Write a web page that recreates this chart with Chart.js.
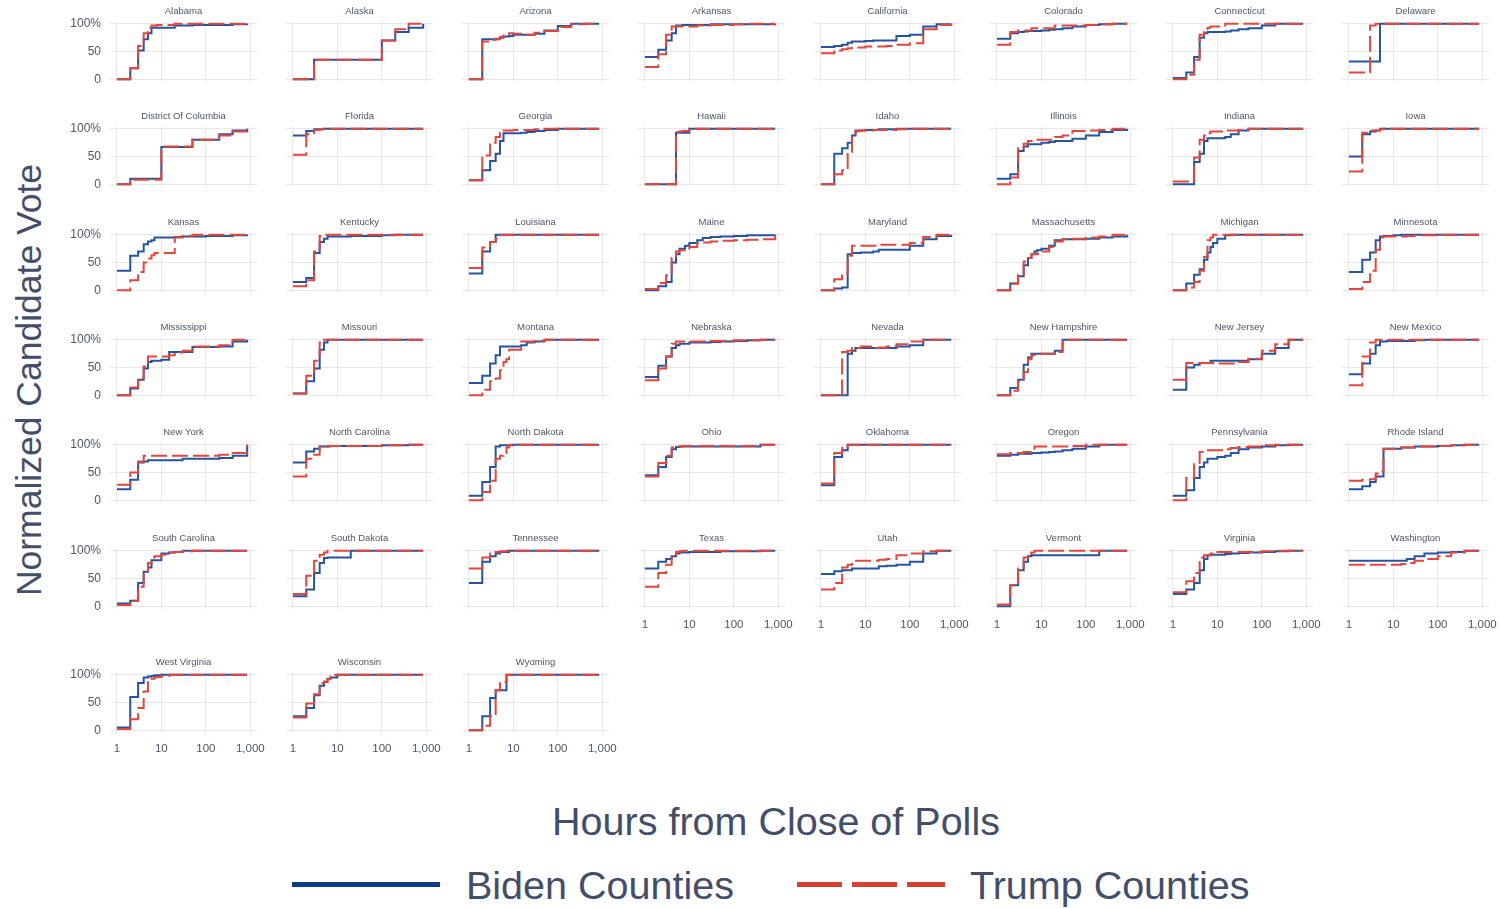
<!DOCTYPE html>
<html>
<head>
<meta charset="utf-8">
<script src="https://cdn.jsdelivr.net/npm/chart.js@4"></script>
<style>
  body { margin: 0; background: #fff; }
  #wrap { position: relative; width: 1500px; height: 908px; overflow: hidden; font-family: 'Liberation Sans', Arial, sans-serif; }
  #wrap canvas { position: absolute; }
  .big { position: absolute; color: #444e6a; font-size: 39.5px; line-height: 1; white-space: nowrap; }
  .key { position: absolute; height: 5px; width: 148px; }
</style>
</head>
<body>
<div id="wrap">
  <div class="big" style="left:30px;top:380px;font-size:35.5px;transform:translate(-50%,-50%) rotate(-90deg);">Normalized Candidate Vote</div>
  <div class="big" style="left:776px;top:822px;transform:translate(-50%,-50%);">Hours from Close of Polls</div>
  <div class="key" style="left:292px;top:882px;background:#0c3c8a;"></div>
  <div class="big" style="left:466px;top:886px;transform:translateY(-50%);">Biden Counties</div>
  <div class="key" style="left:797px;top:882px;background:repeating-linear-gradient(90deg,#d8402f 0 45px,transparent 45px 55px);"></div>
  <div class="big" style="left:970px;top:886px;transform:translateY(-50%);">Trump Counties</div>
</div>
<script>
// hours after poll close where the cumulative share is read
const hours = [1, 2, 3, 4, 5, 6, 7, 8, 10, 15, 20, 30, 50, 100, 200, 400, 850];
const xTicks = [1, 10, 100, 1000];
const yTicks = [0, 50, 100];

const states = [
  'Alabama', 'Alaska', 'Arizona', 'Arkansas', 'California', 'Colorado', 'Connecticut', 'Delaware',
  'District Of Columbia', 'Florida', 'Georgia', 'Hawaii', 'Idaho', 'Illinois', 'Indiana', 'Iowa',
  'Kansas', 'Kentucky', 'Louisiana', 'Maine', 'Maryland', 'Massachusetts', 'Michigan', 'Minnesota',
  'Mississippi', 'Missouri', 'Montana', 'Nebraska', 'Nevada', 'New Hampshire', 'New Jersey', 'New Mexico',
  'New York', 'North Carolina', 'North Dakota', 'Ohio', 'Oklahoma', 'Oregon', 'Pennsylvania', 'Rhode Island',
  'South Carolina', 'South Dakota', 'Tennessee', 'Texas', 'Utah', 'Vermont', 'Virginia', 'Washington',
  'West Virginia', 'Wisconsin', 'Wyoming'
];

const biden = [
  [0,20,52,72,83,93,93,93,93,93,97,97,98,98,98,99,100],
  [0,0,35,35,35,35,35,35,35,35,35,35,35,70,85,93,100],
  [0,72,72,73,75,77,77,78,80,80,80,82,88,96,100,100,100],
  [40,53,70,83,97,97,98,98,98,98,98,99,99,99,99,99,100],
  [58,60,62,66,68,68,68,68,69,70,70,70,78,80,95,99,100],
  [73,83,85,86,87,87,87,87,88,89,90,92,95,98,99,100,100],
  [2,12,40,75,83,85,85,85,85,86,88,90,92,97,100,100,100],
  [32,32,32,32,100,100,100,100,100,100,100,100,100,100,100,100,100],
  [0,10,10,10,10,10,10,10,67,67,67,67,80,80,90,97,100],
  [88,96,99,99,100,100,100,100,100,100,100,100,100,100,100,100,100],
  [7,25,42,55,78,92,92,92,92,93,94,96,98,100,100,100,100],
  [0,0,0,0,93,93,93,93,100,100,100,100,100,100,100,100,100],
  [0,55,65,75,88,97,97,97,98,98,99,99,100,100,100,100,100],
  [10,18,60,68,72,72,72,72,75,76,78,78,82,88,94,98,100],
  [0,0,40,55,78,83,83,83,83,85,90,97,100,100,100,100,100],
  [50,90,95,97,100,100,100,100,100,100,100,100,100,100,100,100,100],
  [35,62,70,83,88,90,95,95,95,95,96,97,97,98,98,99,100],
  [15,22,67,87,93,97,97,97,97,97,98,98,98,99,100,100,100],
  [30,70,87,100,100,100,100,100,100,100,100,100,100,100,100,100,100],
  [0,7,15,50,65,75,75,80,85,90,94,96,97,98,99,99,100],
  [0,3,5,65,67,67,67,68,68,70,73,73,73,80,92,98,100],
  [0,12,25,45,58,65,70,72,75,80,90,92,92,93,95,97,100],
  [0,12,28,38,55,68,78,85,93,99,100,100,100,100,100,100,100],
  [33,55,68,90,97,98,98,98,99,100,100,100,100,100,100,100,100],
  [0,12,28,48,60,62,62,62,64,78,78,78,87,87,88,97,100],
  [3,25,48,82,95,100,100,100,100,100,100,100,100,100,100,100,100],
  [22,35,57,72,88,88,88,88,88,90,95,97,100,100,100,100,100],
  [33,53,70,85,90,93,93,93,95,95,95,96,97,98,99,100,100],
  [0,0,0,75,80,85,85,85,85,85,85,85,88,90,100,100,100],
  [0,13,28,55,68,75,75,75,75,75,80,100,100,100,100,100,100],
  [10,50,55,58,58,58,62,62,62,62,62,62,65,75,85,100,100],
  [38,57,75,90,97,97,98,98,98,98,98,99,100,100,100,100,100],
  [20,37,68,70,72,72,72,72,72,72,72,75,75,75,76,80,100],
  [68,88,93,97,97,97,98,98,98,98,98,98,98,99,99,100,100],
  [8,33,60,97,99,99,99,99,100,100,100,100,100,100,100,100,100],
  [45,60,78,92,96,97,97,97,97,97,97,97,97,97,97,100,100],
  [27,78,90,100,100,100,100,100,100,100,100,100,100,100,100,100,100],
  [80,82,84,84,84,85,85,85,86,87,88,90,93,97,100,100,100],
  [8,18,40,60,68,75,75,75,78,80,85,92,95,97,99,100,100],
  [20,25,33,43,43,93,93,93,93,95,95,97,97,98,99,100,100],
  [5,10,42,62,70,83,83,83,95,97,98,100,100,100,100,100,100],
  [18,30,60,78,87,88,88,88,88,88,100,100,100,100,100,100,100],
  [42,80,90,95,98,98,98,100,100,100,100,100,100,100,100,100,100],
  [68,80,85,90,95,97,97,97,98,98,98,98,99,99,99,100,100],
  [58,63,65,65,68,68,68,68,68,68,72,73,75,80,95,100,100],
  [0,38,65,80,90,92,92,92,92,92,92,92,92,92,100,100,100],
  [22,30,42,65,85,92,93,93,93,94,95,96,97,98,99,100,100],
  [82,82,82,82,82,82,82,82,82,82,85,90,95,97,98,100,100],
  [5,60,85,95,97,98,99,99,100,100,100,100,100,100,100,100,100],
  [25,40,63,80,87,93,95,95,100,100,100,100,100,100,100,100,100],
  [0,25,58,72,72,72,100,100,100,100,100,100,100,100,100,100,100]
];

const trump = [
  [0,20,60,83,93,97,97,98,98,98,100,100,100,100,100,100,100],
  [0,0,35,35,35,35,35,35,35,35,35,35,35,70,90,100,100],
  [0,68,71,72,76,79,80,83,82,80,80,84,87,94,99,100,100],
  [22,45,80,95,95,95,95,95,95,97,97,98,98,99,100,100,100],
  [47,52,54,56,57,57,57,57,59,59,59,60,62,65,90,98,100],
  [62,85,88,88,88,92,92,92,92,92,97,97,97,98,99,100,100],
  [0,8,35,80,90,93,95,95,95,100,100,100,100,100,100,100,100],
  [12,12,97,100,100,100,100,100,100,100,100,100,100,100,100,100,100],
  [0,8,8,8,8,8,8,8,68,68,68,68,80,80,88,95,100],
  [53,90,98,99,100,100,100,100,100,100,100,100,100,100,100,100,100],
  [7,52,75,85,93,97,97,97,98,98,98,99,100,100,100,100,100],
  [0,0,0,0,94,95,96,96,100,100,100,100,100,100,100,100,100],
  [0,18,25,58,90,95,96,97,97,98,98,98,99,100,100,100,100],
  [0,12,65,73,78,78,80,80,80,80,85,88,96,97,98,100,100],
  [5,5,48,80,88,92,95,95,95,97,97,98,100,100,100,100,100],
  [23,93,97,97,99,100,100,100,100,100,100,100,100,100,100,100,100],
  [0,18,33,50,57,63,67,67,67,67,95,98,100,100,100,100,100],
  [7,18,70,98,100,100,100,100,100,100,100,100,100,100,100,100,100],
  [40,77,87,93,100,100,100,100,100,100,100,100,100,100,100,100,100],
  [2,13,27,58,70,72,72,73,78,85,86,88,89,90,91,92,100],
  [0,20,30,62,80,80,80,80,80,80,82,82,82,85,96,100,100],
  [0,12,28,52,58,65,65,66,70,78,88,92,93,95,97,100,100],
  [0,5,15,35,60,90,95,100,100,100,100,100,100,100,100,100,100],
  [2,15,35,73,95,97,97,97,97,97,98,99,99,100,100,100,100],
  [0,14,30,52,70,70,70,70,70,72,77,80,88,88,90,100,100],
  [3,35,62,95,100,100,100,100,100,100,100,100,100,100,100,100,100],
  [0,10,25,30,45,60,65,82,82,97,97,98,100,100,100,100,100],
  [27,48,70,93,97,97,97,97,97,97,97,98,98,99,99,100,100],
  [0,0,78,80,85,85,85,88,88,85,86,88,92,97,100,100,100],
  [0,8,25,42,65,72,75,75,75,75,78,100,100,100,100,100,100],
  [28,58,58,58,58,58,58,57,57,57,57,60,66,80,92,100,100],
  [18,70,95,100,100,100,100,100,100,100,100,100,100,100,100,100,100],
  [28,50,70,80,80,80,80,80,80,80,80,80,80,80,82,85,100],
  [43,75,82,97,97,98,98,98,98,98,98,98,98,99,99,100,100],
  [0,15,35,75,80,85,95,100,100,100,100,100,100,100,100,100,100],
  [43,67,80,95,97,97,98,98,98,98,98,98,98,98,98,100,100],
  [30,85,97,100,100,100,100,100,100,100,100,100,100,100,100,100,100],
  [83,85,85,87,87,90,97,97,97,97,97,97,98,100,100,100,100],
  [0,40,65,87,90,90,90,90,90,92,94,96,97,99,100,100,100],
  [35,37,38,48,52,93,93,93,93,95,95,97,97,98,99,100,100],
  [2,10,35,62,78,88,90,90,93,97,98,99,100,100,100,100,100],
  [22,55,82,93,97,100,100,100,100,100,100,100,100,100,100,100,100],
  [68,88,95,98,99,99,100,100,100,100,100,100,100,100,100,100,100],
  [35,60,75,93,98,99,100,100,100,100,100,100,100,100,100,100,100],
  [30,42,70,75,82,82,82,82,82,82,84,85,92,95,99,100,100],
  [3,38,68,88,95,97,100,100,100,100,100,100,100,100,100,100,100],
  [25,45,60,88,92,92,95,98,98,98,98,98,98,99,100,100,100],
  [75,75,75,75,75,75,75,75,75,76,78,82,85,90,97,100,100],
  [2,20,40,70,90,93,95,96,98,100,100,100,100,100,100,100,100],
  [23,48,65,85,88,92,97,100,100,100,100,100,100,100,100,100,100],
  [0,8,25,72,87,87,100,100,100,100,100,100,100,100,100,100,100]
];

const BLUE = '#2554a3';
const RED = '#e5463b';
const GRID = '#e8e8e8';
const TEXT = '#4f5666';
const FONT = "'Liberation Sans', Arial, sans-serif";

// panel geometry (plot area) and the space around it inside each canvas
const AXW = 50, TITLEH = 19, XAXH = 26, RPAD = 18;
const PW = 147, PH = 61;

const wrap = document.getElementById('wrap');

states.forEach((name, i) => {
  const r = Math.floor(i / 8), c = i % 8;
  const showX = i + 8 >= states.length;
  const plotLeft = 110 + 176 * c;
  const plotTop = r < 6 ? 21 + 105.3 * r : 672;

  const cv = document.createElement('canvas');
  cv.width = AXW + PW + RPAD;
  cv.height = TITLEH + PH + XAXH;
  cv.style.left = (plotLeft - AXW) + 'px';
  cv.style.top = Math.round(plotTop - TITLEH) + 'px';
  wrap.appendChild(cv);

  new Chart(cv, {
    type: 'line',
    data: {
      datasets: [
        { label: 'Trump Counties', data: hours.map((h, j) => ({ x: h, y: trump[i][j] })),
          borderColor: RED, borderWidth: 2, borderDash: [16, 5], stepped: true, pointRadius: 0, fill: false },
        { label: 'Biden Counties', data: hours.map((h, j) => ({ x: h, y: biden[i][j] })),
          borderColor: BLUE, borderWidth: 2, stepped: true, pointRadius: 0, fill: false }
      ]
    },
    options: {
      responsive: false,
      animation: false,
      devicePixelRatio: 1,
      layout: { padding: { left: 0, right: RPAD, top: 0, bottom: 0 } },
      plugins: {
        legend: { display: false },
        tooltip: { enabled: false },
        // fullSize false keeps the title over the plot area, like a facet strip
        title: { display: true, fullSize: false, text: name, color: TEXT,
                 font: { size: 9.5, family: FONT, weight: 'normal' },
                 padding: { top: 4, bottom: 3.6 } }
      },
      scales: {
        x: {
          type: 'logarithmic', min: 0.708, max: 1413,
          afterBuildTicks: s => { s.ticks = xTicks.map(v => ({ value: v })); },
          afterFit: s => { s.height = XAXH; s.paddingLeft = 0; s.paddingRight = 0; },
          grid: { color: GRID, drawTicks: false },
          border: { display: false },
          ticks: { display: showX, autoSkip: false, maxRotation: 0, padding: 9, color: TEXT,
                   font: { size: 11.5, family: FONT },
                   callback: v => Number(v).toLocaleString('en-US') }
        },
        y: {
          min: -5, max: 105,
          afterBuildTicks: s => { s.ticks = yTicks.map(v => ({ value: v })); },
          afterFit: s => { s.width = AXW; s.paddingTop = 0; s.paddingBottom = 0; },
          grid: { color: GRID, drawTicks: false },
          border: { display: false },
          ticks: { display: c === 0, padding: 9, color: TEXT, font: { size: 12, family: FONT },
                   callback: v => v === 100 ? '100%' : String(v) }
        }
      }
    }
  });
});
</script>
</body>
</html>
